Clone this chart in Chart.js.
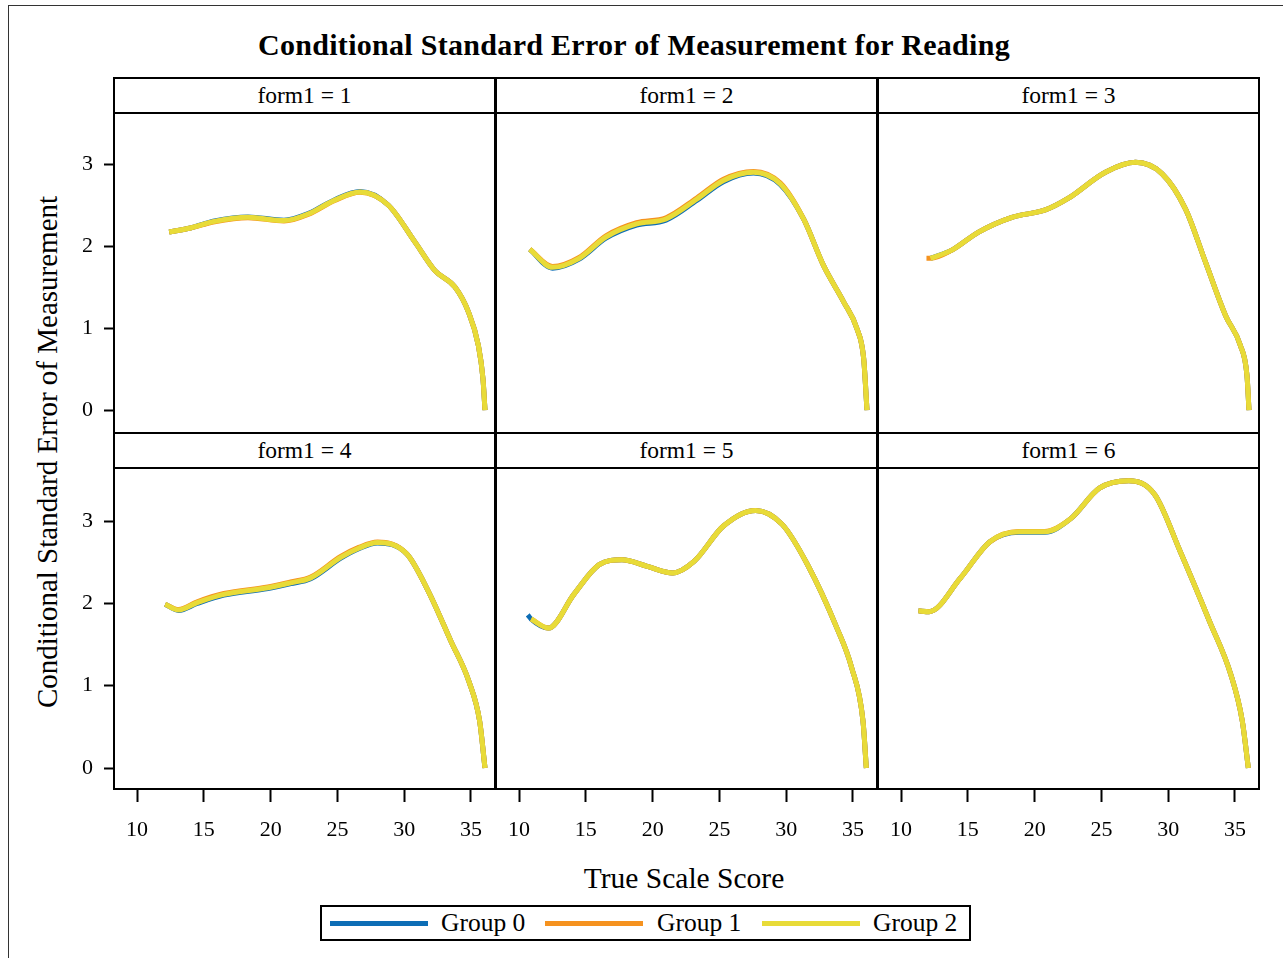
<!DOCTYPE html>
<html>
<head>
  <title>Conditional Standard Error of Measurement for Reading</title>
  <script src="https://cdn.jsdelivr.net/npm/chart.js"></script>
  <style>
    body { margin: 0; background: #fff; font-family: "Liberation Serif", "Times New Roman", serif; color: #000; }
    #page { position: relative; width: 1283px; height: 958px; overflow: hidden; background: #fff; }
    #outline { position: absolute; left: 8px; top: 5px; width: 1400px; height: 1100px; border-top: 1px solid #333; border-left: 1px solid #333; }
    .box { position: absolute; }
    .frame { position: absolute; border: 2px solid #000; box-sizing: border-box; pointer-events: none; }
    .head { position: absolute; border: 2px solid #000; box-sizing: border-box; text-align: center; font-size: 23.5px; line-height: 32px; background: #fff; }
    #title { position: absolute; left: 0; width: 1268px; top: 28px; text-align: center; font-weight: bold; font-size: 30px; letter-spacing: 0.3px; }
    #ytitle { position: absolute; left: 47px; top: 452px; transform: translate(-50%, -50%) rotate(-90deg); white-space: nowrap; font-size: 29px; }
    #xtitle { position: absolute; left: 684px; top: 878px; transform: translate(-50%, -50%); white-space: nowrap; font-size: 29.5px; }
    #legend { position: absolute; left: 320px; top: 905px; width: 651px; height: 36px; border: 2px solid #000; box-sizing: border-box; }
    .swatch { position: absolute; top: 14px; width: 98px; height: 5px; }
    .ltext { position: absolute; top: 1px; font-size: 25.5px; line-height: 30px; }
  </style>
</head>
<body>
  <div id="page">
    <div id="outline"></div>
    <div id="title">Conditional Standard Error of Measurement for Reading</div>
    <div id="ytitle">Conditional Standard Error of Measurement</div>
    <div id="xtitle">True Scale Score</div>
    <div id="legend"></div>
  </div>

  <script>
    var xTicks = [10, 15, 20, 25, 30, 35];
    var yTicks = [0, 1, 2, 3];
    var groupNames = ["Group 0", "Group 1", "Group 2"];
    var groupColors = ["#0d6db5", "#f5921f", "#e8db38"];
    var panelTitles = ["form1 = 1", "form1 = 2", "form1 = 3", "form1 = 4", "form1 = 5", "form1 = 6"];

    // form 1
    var form1Score  = [12.4, 14.0, 15.8, 18.3, 21.0, 22.8, 24.8, 26.7, 28.8, 30.8, 32.3, 33.8, 34.8, 35.55, 35.9, 36.05];
    var form1Group0 = [2.17, 2.22, 2.305, 2.355, 2.315, 2.395, 2.565, 2.665, 2.50, 2.05, 1.70, 1.50, 1.20, 0.79, 0.38, 0];
    var form1Group1 = [2.17, 2.22, 2.295, 2.345, 2.305, 2.385, 2.555, 2.655, 2.50, 2.05, 1.70, 1.50, 1.20, 0.79, 0.38, 0];
    var form1Group2 = [2.17, 2.22, 2.30, 2.35, 2.31, 2.39, 2.56, 2.66, 2.50, 2.05, 1.70, 1.50, 1.20, 0.79, 0.38, 0];

    // form 2
    var form2Score  = [10.8, 12.5, 14.5, 16.5, 18.8, 21.0, 23.3, 25.3, 27.55, 29.55, 31.3, 32.8, 34.3, 35.3, 35.8, 36.05];
    var form2Group0 = [1.96, 1.73, 1.84, 2.095, 2.255, 2.315, 2.555, 2.785, 2.89, 2.75, 2.33, 1.76, 1.32, 0.99, 0.63, 0];
    var form2Group1 = [1.96, 1.75, 1.86, 2.125, 2.285, 2.345, 2.585, 2.815, 2.91, 2.77, 2.33, 1.76, 1.32, 0.99, 0.63, 0];
    var form2Group2 = [1.96, 1.74, 1.85, 2.11, 2.27, 2.33, 2.57, 2.80, 2.90, 2.76, 2.33, 1.76, 1.32, 0.99, 0.63, 0];

    // form 3
    var form3Score  = [11.9, 12.2, 13.8, 15.8, 18.3, 20.8, 22.5, 25.3, 27.55, 29.55, 31.3, 32.8, 34.3, 35.4, 35.9, 36.05];
    var form3Group0 = [null, 1.85, 1.95, 2.17, 2.35, 2.44, 2.58, 2.90, 3.02, 2.88, 2.45, 1.80, 1.15, 0.79, 0.42, 0];
    var form3Group1 = [1.85, 1.85, 1.95, 2.17, 2.35, 2.44, 2.58, 2.90, 3.02, 2.88, 2.45, 1.80, 1.15, 0.79, 0.42, 0];
    var form3Group2 = [null, 1.85, 1.95, 2.17, 2.35, 2.44, 2.58, 2.90, 3.02, 2.88, 2.45, 1.80, 1.15, 0.79, 0.42, 0];

    // form 4
    var form4Score  = [12.1, 13.1, 14.5, 16.5, 19.8, 21.5, 23.0, 25.25, 26.6, 28.0, 30.2, 31.8, 33.5, 34.85, 35.65, 36.05];
    var form4Group0 = [1.99, 1.915, 2.00, 2.10, 2.18, 2.24, 2.30, 2.55, 2.665, 2.735, 2.60, 2.15, 1.54, 1.05, 0.57, 0];
    var form4Group1 = [1.99, 1.925, 2.02, 2.12, 2.20, 2.26, 2.32, 2.57, 2.68, 2.745, 2.60, 2.15, 1.54, 1.05, 0.57, 0];
    var form4Group2 = [1.99, 1.92, 2.01, 2.11, 2.19, 2.25, 2.31, 2.56, 2.67, 2.74, 2.60, 2.15, 1.54, 1.05, 0.57, 0];

    // form 5
    var form5Score  = [10.65, 10.9, 12.2, 14.1, 16.0, 17.7, 19.6, 21.5, 23.1, 25.3, 27.7, 29.7, 31.6, 33.8, 34.9, 35.75, 36.0];
    var form5Group0 = [1.86, 1.81, 1.70, 2.11, 2.47, 2.53, 2.45, 2.37, 2.51, 2.94, 3.13, 2.96, 2.47, 1.70, 1.22, 0.57, 0];
    var form5Group1 = [null, 1.81, 1.70, 2.11, 2.47, 2.53, 2.45, 2.37, 2.51, 2.94, 3.13, 2.96, 2.47, 1.70, 1.22, 0.57, 0];
    var form5Group2 = [null, 1.81, 1.70, 2.11, 2.47, 2.53, 2.45, 2.37, 2.51, 2.94, 3.13, 2.96, 2.47, 1.70, 1.22, 0.57, 0];

    // form 6
    var form6Score  = [11.3, 12.1, 14.45, 16.65, 18.85, 20.75, 22.7, 24.85, 27.05, 29.0, 30.9, 33.1, 34.7, 35.55, 36.0];
    var form6Group0 = [1.91, 1.90, 2.31, 2.75, 2.865, 2.865, 3.03, 3.40, 3.49, 3.32, 2.63, 1.78, 1.13, 0.57, 0];
    var form6Group1 = [1.91, 1.90, 2.31, 2.75, 2.875, 2.875, 3.03, 3.40, 3.49, 3.32, 2.63, 1.78, 1.13, 0.57, 0];
    var form6Group2 = [1.91, 1.90, 2.31, 2.75, 2.87, 2.87, 3.03, 3.40, 3.49, 3.32, 2.63, 1.78, 1.13, 0.57, 0];

    var forms = [
      { score: form1Score, groups: [form1Group0, form1Group1, form1Group2] },
      { score: form2Score, groups: [form2Group0, form2Group1, form2Group2] },
      { score: form3Score, groups: [form3Group0, form3Group1, form3Group2] },
      { score: form4Score, groups: [form4Group0, form4Group1, form4Group2] },
      { score: form5Score, groups: [form5Group0, form5Group1, form5Group2] },
      { score: form6Score, groups: [form6Group0, form6Group1, form6Group2] }
    ];

    var colLeft = [114, 496, 878];
    var colWidth = 381;
    var rowTop = [113, 468];
    var rowHeight = [320, 321];
    var headTop = [77, 432];
    var yRange = [[-0.280, 3.622], [-0.255, 3.645]];
    var xMin = 8.27, xMax = 36.8;
    var fontFamily = '"Liberation Serif", "Times New Roman", serif';
    var page = document.getElementById("page");

    function addDiv(cls, left, top, width, height, text) {
      var d = document.createElement("div");
      d.className = cls;
      d.style.left = left + "px";
      d.style.top = top + "px";
      d.style.width = width + "px";
      d.style.height = height + "px";
      if (text) d.textContent = text;
      page.appendChild(d);
      return d;
    }

    function makePanel(f) {
      var c = f % 3, r = Math.floor(f / 3);
      var form = forms[f];
      var showY = c === 0, showX = r === 1;
      var left = colLeft[c] - (showY ? 60 : 0);
      var width = colWidth + (showY ? 60 : 0);
      var height = rowHeight[r] + (showX ? 60 : 0);

      var holder = addDiv("box", left, rowTop[r], width, height);
      var canvas = document.createElement("canvas");
      holder.appendChild(canvas);

      new Chart(canvas, {
        type: "line",
        data: {
          datasets: form.groups.map(function (g, i) {
            return {
              label: groupNames[i],
              data: form.score.map(function (x, j) { return { x: x, y: g[j] }; }),
              borderColor: groupColors[i],
              backgroundColor: groupColors[i],
              borderWidth: 5,
              pointRadius: 0,
              cubicInterpolationMode: "monotone",
              spanGaps: false,
              fill: false,
              order: 2 - i
            };
          })
        },
        options: {
          responsive: true,
          maintainAspectRatio: false,
          animation: false,
          layout: { padding: 0 },
          plugins: { legend: { display: false }, tooltip: { enabled: false } },
          scales: {
            x: {
              type: "linear",
              min: xMin,
              max: xMax,
              display: showX,
              afterBuildTicks: function (s) { s.ticks = xTicks.map(function (v) { return { value: v }; }); },
              afterFit: function (s) {
                s.paddingLeft = 0; s.paddingRight = 0;
                s.height = showX ? 60 : 0;
              },
              grid: { drawOnChartArea: false, drawTicks: true, tickLength: 13, tickColor: "#000", tickWidth: 2 },
              border: { display: false },
              ticks: { color: "#000", font: { family: fontFamily, size: 22 }, padding: 15, maxRotation: 0 }
            },
            y: {
              min: yRange[r][0],
              max: yRange[r][1],
              display: showY,
              afterBuildTicks: function (s) { s.ticks = yTicks.map(function (v) { return { value: v }; }); },
              afterFit: function (s) {
                s.paddingTop = 0; s.paddingBottom = 0;
                s.width = showY ? 60 : 0;
              },
              grid: { drawOnChartArea: false, drawTicks: true, tickLength: 10, tickColor: "#000", tickWidth: 2 },
              border: { display: false },
              ticks: { color: "#000", font: { family: fontFamily, size: 22 }, padding: 11 }
            }
          }
        }
      });

      addDiv("frame", colLeft[c] - 1, rowTop[r] - 1, colWidth + 2, rowHeight[r] + 2);
      addDiv("head", colLeft[c] - 1, headTop[r], colWidth + 2, 37, panelTitles[f]);
    }

    for (var f = 0; f < forms.length; f++) makePanel(f);

    // legend
    var legend = document.getElementById("legend");
    var swLeft = [8, 223, 440], txLeft = [119, 335, 551];
    groupNames.forEach(function (name, i) {
      var sw = document.createElement("div");
      sw.className = "swatch";
      sw.style.left = swLeft[i] + "px";
      sw.style.background = groupColors[i];
      legend.appendChild(sw);
      var tx = document.createElement("div");
      tx.className = "ltext";
      tx.style.left = txLeft[i] + "px";
      tx.textContent = name;
      legend.appendChild(tx);
    });
  </script>
</body>
</html>
